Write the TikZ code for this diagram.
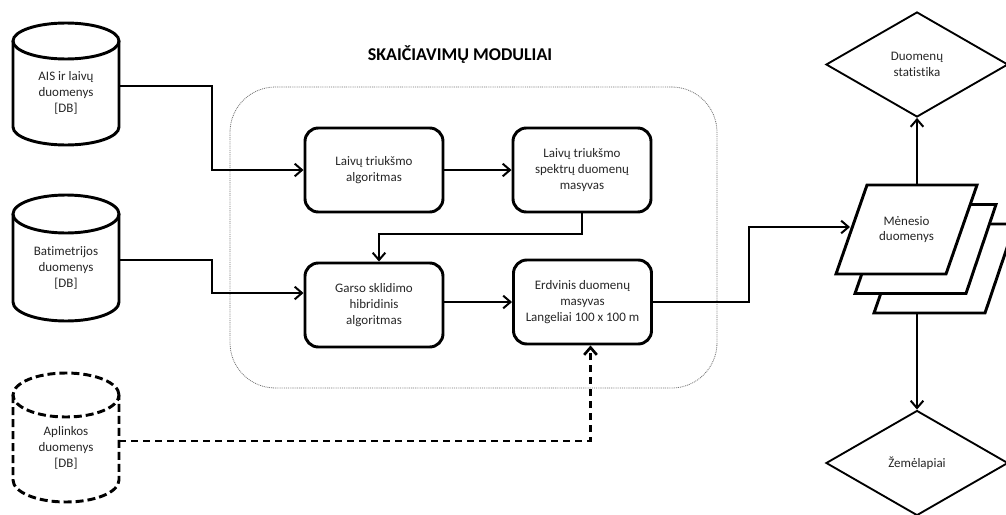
\documentclass[tikz,border=0pt]{standalone}
\usepackage{fontspec}
\setmainfont[Ligatures=NoCommon]{Carlito}
\usetikzlibrary{arrows.meta,shapes.geometric}
\begin{document}
\begin{tikzpicture}[x=0.75pt,y=-0.75pt,
  txt/.style={font=\fontsize{9.75pt}{11.8pt}\selectfont, text=black!85, align=center},
  modbox/.style={txt, draw=black, line width=2.2pt, rounded corners=10pt, minimum width=103.5pt, minimum height=63pt, inner sep=2pt},
  conn/.style={line width=1.5pt, -{Straight Barb[length=5.5pt,width=9.5pt]}},
  dconn/.style={conn, line width=2pt, dash pattern=on 5.25pt off 3.75pt},
  cylline/.style={line width=2.2pt},
  dcyl/.style={cylline, dash pattern=on 6pt off 3pt},
  cyltext/.style={txt, minimum width=79.5pt, inner sep=0pt},
  diam/.style={txt, draw, diamond, line width=1.4pt, minimum width=136.5pt, minimum height=78.75pt, inner sep=0pt},
  para/.style={draw, fill=white, line width=2.2pt},
  sheet/.style={minimum width=105.75pt, minimum height=66.75pt, inner sep=0pt},
  cont/.style={draw=black!55, line width=0.6pt, dash pattern=on 0.7pt off 0.7pt, rounded corners=34pt, minimum width=365.25pt, minimum height=225.75pt}
]
\useasboundingbox (0,0) rectangle (1006,514);
\clip (0,0) rectangle (1006,514);

% container and title
\node[cont] (mod) at (473.5,237.5) {};
\node[font=\fontsize{13.5pt}{16pt}\selectfont\bfseries] (title) at (460,55) {SKAIČIAVIMŲ MODULIAI};

% module boxes
\node[modbox] (b1) at (374,170) {Laivų triukšmo\\algoritmas};
\node[modbox] (b2) at (582,170) {Laivų triukšmo\\spektrų duomenų\\masyvas};
\node[modbox] (b3) at (374,305) {Garso sklidimo\\hibridinis\\algoritmas};
\node[modbox] (b4) at (582.5,302) {Erdvinis duomenų\\masyvas\\Langeliai 100 x 100 m};

% cylinders
\draw[cylline] (13,41) -- (13,127) arc[start angle=180,end angle=360,x radius=39.75pt,y radius=13.5pt] -- (119,41);
\draw[cylline] (66,41) ellipse [x radius=39.75pt, y radius=13.5pt];
\node[cyltext] (c1) at (66,93) {AIS ir laivų\\duomenys\\{[DB]}};

\draw[cylline] (13,214) -- (13,302) arc[start angle=180,end angle=360,x radius=39.75pt,y radius=14.25pt] -- (119,214);
\draw[cylline] (66,214) ellipse [x radius=39.75pt, y radius=14.25pt];
\node[cyltext] (c2) at (66,268) {Batimetrijos\\duomenys\\{[DB]}};

\draw[dcyl] (13,395) -- (13,480) arc[start angle=180,end angle=360,x radius=39.75pt,y radius=16.5pt] -- (119,395);
\draw[dcyl] (66,395) ellipse [x radius=39.75pt, y radius=16.5pt];
\node[cyltext] (c3) at (66,448) {Aplinkos\\duomenys\\{[DB]}};

% connectors
\coordinate (min) at (850,227);
\draw[conn] ([yshift=5.25pt]c1.east) -- ++(93,0) |- (b1.west);
\draw[conn] ([yshift=6pt]c2.east) -- ++(93,0) |- ([yshift=9pt]b3.west);
\draw[dconn] ([yshift=5.25pt]c3.east) -| ([xshift=6pt]b4.south);
\draw[conn] (b1) -- (b2);
\draw[conn] (b2.south) -- ++(0,21) -| ([xshift=3.75pt]b3.north);
\draw[conn] (b3.east |- b4.west) -- (b4.west);
\draw[conn] (b4.east) -- ++(96,0) |- (min);

% monthly data sheets
\draw[para] (905,224) -- (1015,224) -- (985,313) -- (874,313) -- cycle;
\draw[para] (886,204.5) -- (996,204.5) -- (966,293.5) -- (855,293.5) -- cycle;
\draw[para] (867,185) -- (977,185) -- (946,274) -- (836,274) -- cycle;
\node[txt, sheet] (m1) at (906.5,229.5) {Mėnesio\\duomenys};
\node[sheet] (m3) at (944.5,268.5) {};

% outputs
\node[diam] (d1) at (917,64.5) {Duomenų\\statistika};
\node[diam] (d2) at (917,463) {Žemėlapiai};
\draw[conn] (d1.south |- m1.north) -- (d1.south);
\draw[conn] (d2.north |- m3.south) -- (d2.north);
\end{tikzpicture}
\end{document}
